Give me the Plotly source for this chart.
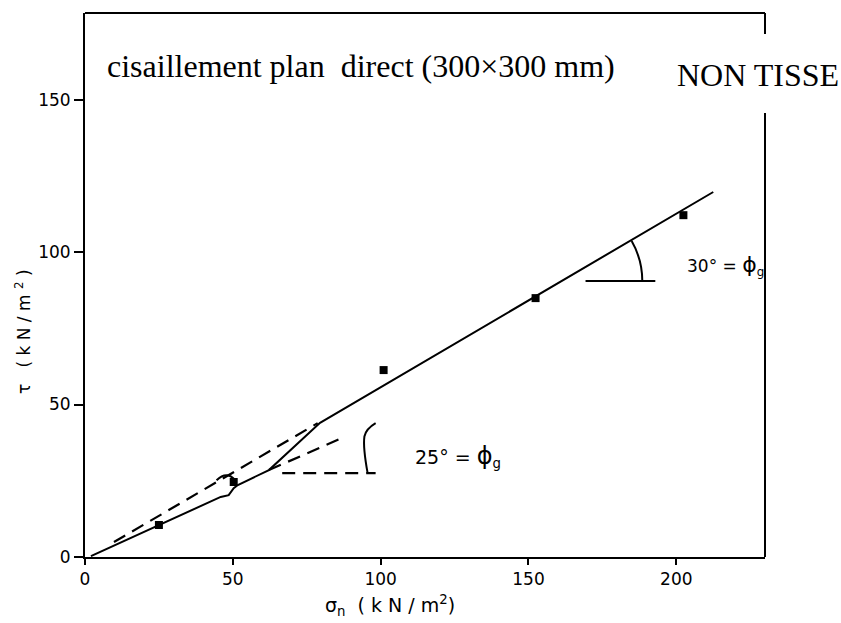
import plotly.graph_objects as go

# ---- data ----
sigma_pts = [25.0, 50.3, 101.0, 152.4, 202.4]
tau_pts = [10.5, 24.6, 61.3, 84.9, 112.1]

# solid failure envelope (hand drawn)
env_sigma = [2.0, 45.9, 48.6, 50.3, 51.7, 62.2, 79.5, 212.5]
env_tau = [0.3, 19.7, 20.3, 22.6, 23.6, 28.5, 44.0, 119.7]

# dashed construction lines
dash1_sigma = [9.8, 78.7]
dash1_tau = [4.9, 43.9]
dash2_sigma = [62.2, 87.5]
dash2_tau = [28.5, 39.3]
dash3_sigma = [66.7, 98.3]
dash3_tau = [27.5, 27.5]

# solid horizontal reference for 30 deg
ref30_sigma = [169.3, 192.9]
ref30_tau = [90.5, 90.5]

x_ticks = [0, 50, 100, 150, 200]
y_ticks = [0, 50, 100, 150]

# ---- layout geometry (pixels) ----
W, H = 841, 623
L, R, T, B = 85, 76, 13, 66
PW, PH = W - L - R, H - T - B


def px(xp):
    return (xp - L) / PW


def py(yp):
    return (H - B - yp) / PH


fig = go.Figure()

line_style = dict(color="black", width=2)

fig.add_trace(go.Scatter(x=env_sigma, y=env_tau, mode="lines", line=line_style,
                         hoverinfo="skip"))
for xs, ys in [(dash1_sigma, dash1_tau), (dash2_sigma, dash2_tau), (dash3_sigma, dash3_tau)]:
    fig.add_trace(go.Scatter(x=xs, y=ys, mode="lines",
                             line=dict(color="black", width=2.2, dash="13px,8px"),
                             hoverinfo="skip"))
fig.add_trace(go.Scatter(x=ref30_sigma, y=ref30_tau, mode="lines", line=line_style,
                         hoverinfo="skip"))
fig.add_trace(go.Scatter(x=sigma_pts, y=tau_pts, mode="markers",
                         marker=dict(color="black", size=8, symbol="square"),
                         hoverinfo="skip"))

shapes = [
    # 30 degree arc
    dict(type="path", xref="x", yref="y", path="M 184.9,103.6 Q 188.5,97.5 188.5,90.5",
         line=dict(color="black", width=2)),
    # 25 degree arc
    dict(type="path", xref="x", yref="y",
         path="M 95.6,27.5 Q 94.0,36 94.5,39.5 Q 95,42 98.3,43.9",
         line=dict(color="black", width=2)),
    # small hook at the 50 kPa point
    dict(type="path", xref="x", yref="y", path="M 44.5,25.2 Q 48,28.5 50.8,25.2",
         line=dict(color="black", width=2)),
    # right border, broken by the label
    dict(type="line", xref="paper", yref="paper", x0=1, x1=1, y0=0, y1=py(113),
         line=dict(color="black", width=2)),
    dict(type="line", xref="paper", yref="paper", x0=1, x1=1, y0=py(34), y1=1,
         line=dict(color="black", width=2)),
    # top border
    dict(type="line", xref="paper", yref="paper", x0=0, x1=1, y0=1, y1=1,
         line=dict(color="black", width=2)),
]

hand = dict(family="DejaVu Sans", color="black")
NB = "\u00a0"

annotations = [
    dict(xref="paper", yref="paper", x=px(105), y=py(66), xanchor="left", yanchor="middle",
         text=f"cisaillement plan{NB}{NB}direct (300×300 mm)", showarrow=False,
         font=dict(family="Liberation Serif", size=32, color="black")),
    dict(xref="paper", yref="paper", x=px(675), y=py(75), xanchor="left", yanchor="middle",
         text="NON TISSE", showarrow=False,
         font=dict(family="Liberation Serif", size=32, color="black")),
    dict(xref="x", yref="y", x=110.8, y=33.0, xanchor="left", yanchor="middle",
         text=f"25°{NB}={NB}<span style='font-size:24px'>ϕ</span><sub>g</sub>",
         showarrow=False, font=dict(size=19, **hand)),
    dict(xref="x", yref="y", x=203.0, y=95.7, xanchor="left", yanchor="middle",
         text=f"30°{NB}={NB}<span style='font-size:22px'>ϕ</span><sub>g</sub>",
         showarrow=False, font=dict(size=17, **hand)),
    dict(xref="paper", yref="paper", x=px(23), y=py(332), xanchor="center", yanchor="middle",
         textangle=-90, showarrow=False,
         text=f"τ{NB}{NB}{NB}({NB}k{NB}N{NB}/{NB}m{NB}<sup>2</sup>{NB})",
         font=dict(size=17, **hand)),
    dict(xref="paper", yref="paper", x=px(323), y=py(605), xanchor="left", yanchor="middle",
         showarrow=False,
         text=f"σ<sub>n</sub>{NB}{NB}({NB}k{NB}N{NB}/{NB}m<sup>2</sup>)",
         font=dict(size=19, **hand)),
]

fig.update_layout(
    width=W, height=H,
    margin=dict(l=L, r=R, t=T, b=B),
    paper_bgcolor="white", plot_bgcolor="white",
    showlegend=False,
    shapes=shapes,
    annotations=annotations,
)
fig.update_xaxes(range=[0, 230], tickvals=x_ticks, ticktext=[str(v) for v in x_ticks],
                 showgrid=False, zeroline=False, showline=True, linecolor="black", linewidth=2,
                 mirror=False, ticks="outside", ticklen=6, tickwidth=2, tickcolor="black",
                 tickfont=dict(size=17, **hand))
fig.update_yaxes(range=[0, 178.4], tickvals=y_ticks, ticktext=[str(v) for v in y_ticks],
                 showgrid=False, zeroline=False, showline=True, linecolor="black", linewidth=2,
                 mirror=False, ticks="outside", ticklen=9, tickwidth=2, tickcolor="black",
                 tickfont=dict(size=17, **hand))

fig.write_html("out.html")
